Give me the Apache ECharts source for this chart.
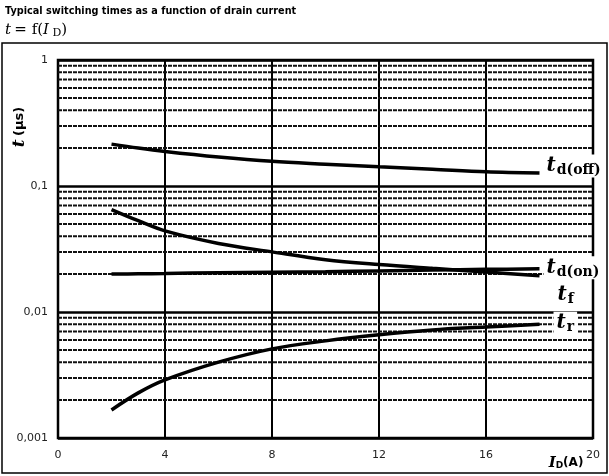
<!DOCTYPE html>
<html><head><meta charset="utf-8">
<script src="https://cdn.jsdelivr.net/npm/echarts@6/dist/echarts.min.js"></script>
<style>html,body{margin:0;padding:0;background:#fff}#c{width:609px;height:476px}</style>
</head><body><div id="c"></div>
<script>
const current = [2, 3, 4, 6, 8, 10, 12, 14, 16, 18];
const tdOff = [0.215, 0.200, 0.188, 0.170, 0.157, 0.149, 0.142, 0.136, 0.130, 0.127];
const tdOn  = [0.0200, 0.0201, 0.0202, 0.0205, 0.0207, 0.0209, 0.0212, 0.0215, 0.0218, 0.0220];
const tf    = [0.065, 0.053, 0.044, 0.035, 0.030, 0.026, 0.0238, 0.0222, 0.0208, 0.0194];
const tr    = [0.00167, 0.00228, 0.00289, 0.0040, 0.0051, 0.0059, 0.0066, 0.0072, 0.0076, 0.0080];
const xTicks = [0, 4, 8, 12, 16, 20];
const decades = [0.001, 0.01, 0.1, 1];
const minorSteps = [2, 3, 4, 5, 6, 7, 8, 9];

// minor log grid lines (2..9 per decade), drawn as broken line segments across the x range
const minorGrid = [];
decades.slice(0, 3).forEach(d => minorSteps.forEach(m => {
  const v = +(d * m).toPrecision(3);
  minorGrid.push([xTicks[0], v], [xTicks[xTicks.length - 1], v], '-');
}));

const serif = '"DejaVu Serif","Liberation Serif",serif';
const sans = '"DejaVu Sans",Verdana,sans-serif';

function pairs(ys) { return current.map((x, i) => [x, ys[i]]); }
function lbl(sub) { return '{t|t}{s|' + sub + '}'; }
const richLbl = {
  t: { fontFamily: serif, fontStyle: 'italic', fontWeight: 'bold', fontSize: 20, color: '#000' },
  s: { fontFamily: serif, fontWeight: 'bold', fontSize: 14, color: '#000', verticalAlign: 'bottom', padding: [9, 0, 0, 1] }
};
function curve(name, ys, sub, off) {
  return {
    name, type: 'line', data: pairs(ys), smooth: 0.35, showSymbol: false, symbol: 'none',
    lineStyle: { color: '#000', width: 3.5 },
    endLabel: { show: true, formatter: lbl(sub), rich: richLbl, offset: off, backgroundColor: '#fff', padding: [0, 3, 0, 3] },
    z: 5
  };
}

const chart = echarts.init(document.getElementById('c'), null, { renderer: 'canvas' });
chart.setOption({
  animation: false,
  backgroundColor: '#fff',
  grid: { left: 58, right: 16, top: 60, bottom: 38, show: true, borderColor: '#000', borderWidth: 2.5, backgroundColor: 'transparent' },
  xAxis: {
    type: 'value', min: 0, max: 20, interval: 4,
    axisLine: { show: false }, axisTick: { show: false },
    axisLabel: { fontFamily: sans, fontSize: 11, color: '#222', margin: 12 },
    splitLine: { show: true, lineStyle: { color: '#000', width: 2 } }
  },
  yAxis: {
    type: 'log', logBase: 10, min: 0.001, max: 1,
    axisLine: { show: false }, axisTick: { show: false },
    axisLabel: { fontFamily: sans, fontSize: 11, color: '#222', margin: 10,
      formatter: v => String(v).replace('.', ',') },
    splitLine: { show: true, lineStyle: { color: '#000', width: 2.5 } }
  },
  series: [
    {
      name: 'minorGrid', type: 'line', data: minorGrid, silent: true, symbol: 'none', showSymbol: false,
      connectNulls: false,
      lineStyle: { color: '#111', width: 2, type: [4, 1] }, z: 1
    },
    curve('td(off)', tdOff, 'd(off)', [-4, -7]),
    curve('td(on)', tdOn, 'd(on)', [-4, -1]),
    curve('tf', tf, 'f', [7, 19]),
    curve('tr', tr, 'r', [6, -1])
  ],
  graphic: [
    { type: 'rect', shape: { x: 2, y: 43, width: 605, height: 430 }, style: { fill: 'none', stroke: '#000', lineWidth: 1.5 }, silent: true },
    { type: 'text', left: 5, top: 6, style: { text: 'Typical switching times as a function of drain current', fontFamily: sans, fontWeight: 'bold', fontSize: 9.7, fill: '#000' } },
    { type: 'text', left: 5, top: 23, style: {
      text: '{i|t} {n|= f(}{i|I}{sub| D}{n|)}',
      rich: {
        i: { fontFamily: serif, fontStyle: 'italic', fontSize: 15, fill: '#000' },
        n: { fontFamily: serif, fontSize: 15, fill: '#000' },
        sub: { fontFamily: serif, fontSize: 11, fill: '#000', verticalAlign: 'bottom', padding: [6, 0, 0, 0] }
      } } },
    { type: 'text', x: 20, y: 127, rotation: Math.PI / 2, style: {
      text: '{i|t} {n|(µs)}', align: 'center', verticalAlign: 'middle',
      rich: {
        i: { fontFamily: serif, fontStyle: 'italic', fontWeight: 'bold', fontSize: 17, fill: '#000' },
        n: { fontFamily: sans, fontWeight: 'bold', fontSize: 13, fill: '#000' }
      } } },
    { type: 'text', x: 566, y: 463, style: {
      text: '{i|I}{sub|D}{n|(A)}', align: 'center', verticalAlign: 'middle',
      rich: {
        i: { fontFamily: serif, fontStyle: 'italic', fontWeight: 'bold', fontSize: 15, fill: '#000' },
        sub: { fontFamily: sans, fontWeight: 'bold', fontSize: 9, fill: '#000', verticalAlign: 'bottom', padding: [5, 0, 0, 0] },
        n: { fontFamily: sans, fontWeight: 'bold', fontSize: 12, fill: '#000' }
      } } }
  ]
});
</script></body></html>
